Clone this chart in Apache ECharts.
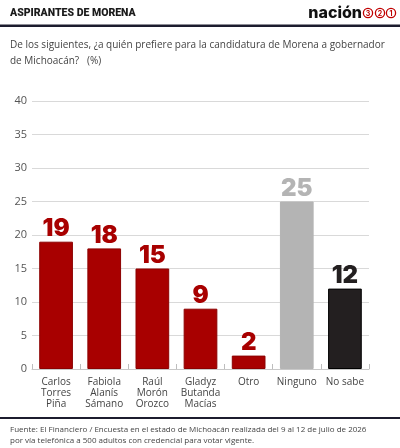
<!DOCTYPE html>
<html><head><meta charset="utf-8">
<script src="https://cdn.jsdelivr.net/npm/echarts@6/dist/echarts.min.js"></script>
<style>html,body{margin:0;padding:0;background:#fff}#c{width:400px;height:448px}</style>
</head><body><div id="c"></div>
<script>
const categories = ['Carlos\nTorres\nPiña','Fabiola\nAlanís\nSámano','Raúl\nMorón\nOrozco','Gladyz\nButanda\nMacías','Otro','Ninguno','No sabe'];
const values = [19, 18, 15, 9, 2, 25, 12];
const barColors = ['#a80000','#a80000','#a80000','#a80000','#a80000','#b4b4b4','#231f20'];
const borderColors = ['#8c0000','#8c0000','#8c0000','#8c0000','#8c0000','#b4b4b4','#000000'];
const yTicks = [0,5,10,15,20,25,30,35,40];

const chart = echarts.init(document.getElementById('c'), null, {renderer:'canvas'});
const font = '"Open Sans", "Noto Sans", sans-serif';
const logoDigits = ['3','2','1'];
const logoX = [368,380,391];
const logo = [];
logoDigits.forEach((d,i)=>{
  logo.push({type:'circle',shape:{cx:logoX[i],cy:13,r:4.6},style:{fill:'#fff',stroke:'#c00000',lineWidth:1.3}});
  logo.push({type:'text',x:logoX[i],y:13.5,style:{text:d,font:'bold 7px Inter, sans-serif',fill:'#c00000',align:'center',verticalAlign:'middle'}});
});
chart.setOption({
  animation:false,
  textStyle:{fontFamily:font},
  grid:{left:32,right:31,top:101,bottom:79,containLabel:false},
  xAxis:{type:'category',data:categories,
    axisLine:{show:true,lineStyle:{color:'#c8c8c8',width:1}},
    axisTick:{show:true,inside:true,length:5,lineStyle:{color:'#bdbdbd'}},
    axisLabel:{interval:0,color:'#444',fontSize:10,lineHeight:11,margin:8,fontFamily:font}},
  yAxis:{type:'value',min:yTicks[0],max:yTicks[yTicks.length-1],interval:5,
    axisLine:{show:false},axisTick:{show:false},
    splitLine:{lineStyle:{color:'#d9d9d9',width:1}},
    axisLabel:{color:'#555',fontSize:11,margin:5,fontFamily:font}},
  series:[{type:'bar',barWidth:'70%',
    data:values.map((v,i)=>({value:v,itemStyle:{color:barColors[i],borderColor:borderColors[i],borderWidth:1},
      label:{color:barColors[i]}})),
    label:{show:true,position:'top',distance:1,fontSize:24,fontWeight:900,fontFamily:'Inter, Roboto, sans-serif'}}],
  graphic:[
    {type:'text',left:10,top:8,style:{text:'ASPIRANTES DE MORENA',font:'900 10.5px Roboto, sans-serif',fill:'#1a1a1a'}},
    {type:'text',x:362,y:13,style:{text:'nación',font:'800 16px Inter, Roboto, sans-serif',fill:'#111',align:'right',verticalAlign:'middle'}},
    ...logo,
    {type:'rect',shape:{x:0,y:24.5,width:400,height:2.5},style:{fill:'#1c1c2e'}},
    {type:'text',left:10,top:37,style:{text:'De los siguientes, ¿a quién prefiere para la candidatura de Morena a gobernador\nde Michoacán?   (%)',font:'10px "Open Sans", sans-serif',fill:'#444',lineHeight:16}},
    {type:'rect',shape:{x:0,y:417,width:400,height:2},style:{fill:'#1c1c2e'}},
    {type:'text',left:10,top:424,style:{text:'Fuente: El Financiero / Encuesta en el estado de Michoacán realizada del 9 al 12 de julio de 2026\npor vía telefónica a 500 adultos con credencial para votar vigente.',font:'8px "Open Sans", sans-serif',fill:'#444',lineHeight:11}}
  ]
});
</script></body></html>
